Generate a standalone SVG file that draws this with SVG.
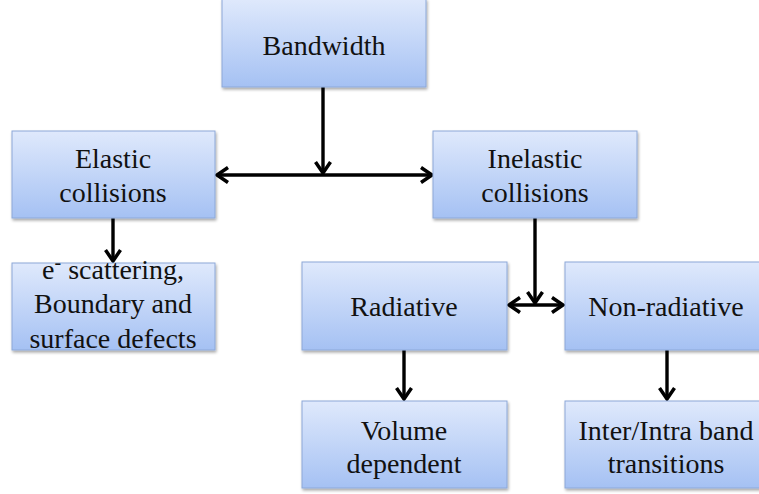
<svg xmlns="http://www.w3.org/2000/svg" width="759" height="494" viewBox="0 0 759 494">
<defs>
<linearGradient id="g" x1="0" y1="0" x2="0" y2="1">
<stop offset="0" stop-color="#dfe9fc"/>
<stop offset="1" stop-color="#a5c1f3"/>
</linearGradient>
<filter id="sh" x="-5%" y="-5%" width="115%" height="115%">
<feGaussianBlur in="SourceAlpha" stdDeviation="1.5"/>
<feOffset dx="1" dy="2" result="b"/>
<feComponentTransfer><feFuncA type="linear" slope="0.35"/></feComponentTransfer>
<feMerge><feMergeNode/><feMergeNode in="SourceGraphic"/></feMerge>
</filter>
<marker id="ah" viewBox="0 0 16 18" refX="14" refY="9" markerWidth="16" markerHeight="18" markerUnits="userSpaceOnUse" orient="auto-start-reverse">
<path d="M3,1.5 L14,9 L3,16.5" fill="none" stroke="#000" stroke-width="3.5"/>
</marker>
</defs>
<style>
.box{fill:url(#g);stroke:#8da8d8;stroke-width:1;filter:url(#sh)}
.t{font-size:28px;fill:#111;text-anchor:middle}
.c{stroke:#000;stroke-width:3.4;fill:none}
</style>
<g id="connectors">
<line class="c" x1="323" y1="87" x2="323" y2="173" marker-end="url(#ah)"/>
<line class="c" x1="217" y1="175" x2="432" y2="175" marker-start="url(#ah)" marker-end="url(#ah)"/>
<line class="c" x1="113" y1="218" x2="113" y2="261" marker-end="url(#ah)"/>
<line class="c" x1="535" y1="218" x2="535" y2="303" marker-end="url(#ah)"/>
<line class="c" x1="509" y1="305" x2="563" y2="305" marker-start="url(#ah)" marker-end="url(#ah)"/>
<line class="c" x1="404" y1="350" x2="404" y2="399" marker-end="url(#ah)"/>
<line class="c" x1="667" y1="350" x2="667" y2="399" marker-end="url(#ah)"/>
</g>
<g font-family="Liberation Serif, serif">
<g id="bandwidth">
<rect class="box" x="222" y="-1" width="204" height="88"/>
<text class="t" x="324" y="55">Bandwidth</text>
</g>
<g id="elastic">
<rect class="box" x="12" y="131" width="203" height="87"/>
<text class="t" x="113" y="168">Elastic</text>
<text class="t" x="113" y="202">collisions</text>
</g>
<g id="inelastic">
<rect class="box" x="433" y="131" width="204" height="87"/>
<text class="t" x="535" y="168">Inelastic</text>
<text class="t" x="535" y="202">collisions</text>
</g>
<g id="scattering">
<rect class="box" x="12" y="263" width="203" height="87"/>
<text class="t" x="113" y="279">e<tspan font-size="20" dy="-10">-</tspan><tspan dy="10"> scattering,</tspan></text>
<text class="t" x="113" y="313">Boundary and</text>
<text class="t" x="113" y="348">surface defects</text>
</g>
<g id="radiative">
<rect class="box" x="302" y="262" width="205" height="88"/>
<text class="t" x="404" y="316">Radiative</text>
</g>
<g id="nonradiative">
<rect class="box" x="565" y="262" width="200" height="88"/>
<text class="t" x="666" y="316">Non-radiative</text>
</g>
<g id="volume">
<rect class="box" x="302" y="401" width="205" height="87"/>
<text class="t" x="404" y="440">Volume</text>
<text class="t" x="404" y="473">dependent</text>
</g>
<g id="interintra">
<rect class="box" x="565" y="401" width="200" height="87"/>
<text class="t" x="666" y="440">Inter/Intra band</text>
<text class="t" x="666" y="473">transitions</text>
</g>
</g>
</svg>
